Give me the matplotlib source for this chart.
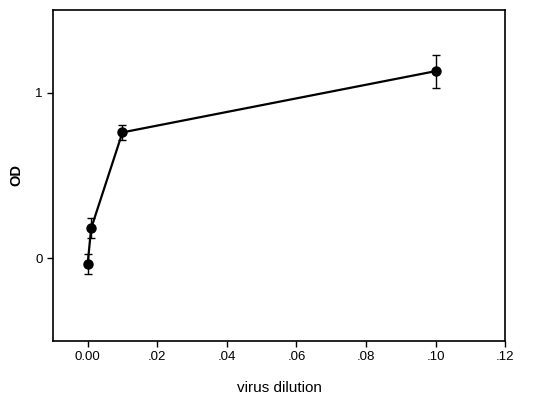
import matplotlib
matplotlib.use("Agg")
import matplotlib.pyplot as plt

# virus dilution vs OD
dilution = [0.0, 0.001, 0.01, 0.1]
od = [-0.035, 0.18, 0.76, 1.13]
od_err = [0.06, 0.06, 0.045, 0.10]

xticks = [0.0, 0.02, 0.04, 0.06, 0.08, 0.10, 0.12]
xtick_labels = ["0.00", ".02", ".04", ".06", ".08", ".10", ".12"]
yticks = [0, 1]
ytick_labels = ["0", "1"]

plt.rcParams['font.family'] = ['Liberation Sans', 'DejaVu Sans']

fig = plt.figure(figsize=(5.45, 3.96), dpi=100)
ax = fig.add_axes([0.097, 0.139, 0.830, 0.836])

ax.errorbar(dilution, od, yerr=od_err, fmt='-o', color='black',
            markersize=6.5, linewidth=1.6, elinewidth=1, capsize=3, capthick=1)

ax.set_xlim(-0.01, 0.12)
ax.set_ylim(-0.5, 1.5)
ax.set_xticks(xticks)
ax.set_xticklabels(xtick_labels)
ax.set_yticks(yticks)
ax.set_yticklabels(ytick_labels)
ax.tick_params(direction='out', length=4, width=1, labelsize=9.5)
for s in ax.spines.values():
    s.set_linewidth(1.2)

ax.set_xlabel("virus dilution", fontsize=11, labelpad=13)
ax.set_ylabel("OD", fontsize=10.5, fontweight='bold', labelpad=8)

fig.savefig("out.png", dpi=100)
